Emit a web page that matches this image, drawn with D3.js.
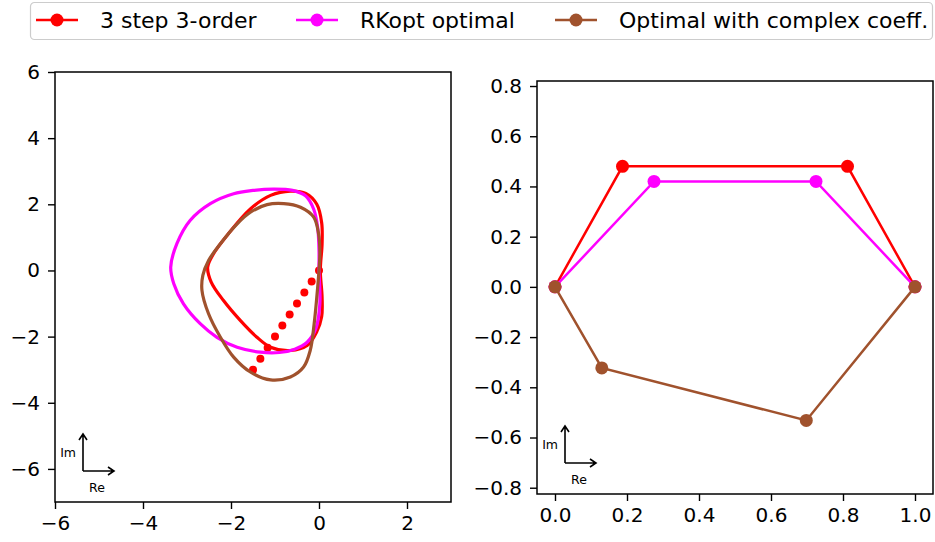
<!DOCTYPE html>
<html><head><meta charset="utf-8">
<script src="https://cdn.jsdelivr.net/npm/d3@7"></script>
<style>body{margin:0;background:#fff}svg{display:block}text{font-family:"DejaVu Sans",sans-serif}</style>
</head><body>
<script>
const seriesNames = ["3 step 3-order", "RKopt optimal", "Optimal with complex coeff."];
const seriesColors = ["#ff0000", "#ff00ff", "#a0522d"];

// Left panel: stability region boundaries (Re, Im), traced
const redCurve = [[0.03,0],[0.07,0.8],[0.06,1.45],[-0.05,2.0],[-0.3,2.33],[-0.65,2.4],[-1.1,2.27],[-1.56,1.86],[-2.09,1.06],[-2.4,0.5],[-2.53,0.1],[-2.45,-0.35],[-2.17,-0.91],[-1.79,-1.51],[-1.41,-2.02],[-1.1,-2.32],[-0.65,-2.42],[-0.27,-2.27],[-0.05,-1.85],[0.06,-1.4],[0.07,-0.8]];
const magentaCurve = [[0.0,0],[0.0,0.6],[-0.03,1.3],[-0.12,1.85],[-0.3,2.25],[-0.6,2.42],[-1.03,2.46],[-1.5,2.42],[-1.94,2.32],[-2.47,2.02],[-2.93,1.51],[-3.23,0.81],[-3.37,0.1],[-3.3,-0.4],[-3.08,-1.01],[-2.7,-1.61],[-2.32,-2.02],[-1.86,-2.32],[-1.33,-2.47],[-0.9,-2.48],[-0.55,-2.38],[-0.27,-2.17],[-0.07,-1.75],[0.02,-1.0]];
const brownCurve = [[0.0,0],[0.02,0.55],[-0.01,1.11],[-0.12,1.61],[-0.42,1.91],[-0.8,2.02],[-1.18,1.99],[-1.56,1.76],[-1.86,1.41],[-2.24,0.81],[-2.51,0.3],[-2.64,-0.15],[-2.66,-0.6],[-2.51,-1.31],[-2.24,-2.02],[-1.94,-2.62],[-1.56,-3.07],[-1.1,-3.31],[-0.65,-3.22],[-0.35,-2.92],[-0.2,-2.42],[-0.11,-1.61],[-0.05,-0.81]];
const redDots = [[0,0],[-0.167,-0.333],[-0.333,-0.667],[-0.5,-1],[-0.667,-1.333],[-0.833,-1.667],[-1,-2],[-1.167,-2.333],[-1.333,-2.667],[-1.5,-3]];

// Right panel: coefficient paths
const redPath = [[0,0],[0.1875,0.48],[0.8125,0.48],[1,0]];
const magentaPath = [[0,0],[0.275,0.42],[0.725,0.42],[1,0]];
const brownPath = [[0,0],[0.13,-0.323],[0.698,-0.532],[1,0]];

const leftXTicks = [-6,-4,-2,0,2];
const leftYTicks = [-6,-4,-2,0,2,4,6];
const rightXTicks = [0,0.2,0.4,0.6,0.8,1.0];
const rightYTicks = [-0.8,-0.6,-0.4,-0.2,0,0.2,0.4,0.6,0.8];

const W = 935, H = 542;
const svg = d3.select("body").append("svg").attr("width", W).attr("height", H);

function panel(box, xdom, ydom, xt, yt, fmt) {
  const x = d3.scaleLinear().domain(xdom).range([box.x0, box.x1]);
  const y = d3.scaleLinear().domain(ydom).range([box.y1, box.y0]);
  const g = svg.append("g");
  const clipId = "clip" + Math.round(box.x0);
  svg.append("clipPath").attr("id", clipId).append("rect")
    .attr("x", box.x0).attr("y", box.y0).attr("width", box.x1 - box.x0).attr("height", box.y1 - box.y0);
  const plot = g.append("g").attr("clip-path", `url(#${clipId})`);
  const ax = g.append("g").attr("transform", `translate(0,${box.y1})`)
    .call(d3.axisBottom(x).tickValues(xt).tickSize(7).tickPadding(7).tickFormat(fmt));
  const ay = g.append("g").attr("transform", `translate(${box.x0},0)`)
    .call(d3.axisLeft(y).tickValues(yt).tickSize(7).tickPadding(8).tickFormat(fmt));
  [ax, ay].forEach(a => {
    a.select(".domain").remove();
    a.selectAll(".tick line").attr("stroke", "#000").attr("stroke-width", 1.4);
    a.selectAll(".tick text").attr("fill", "#000").style("font-size", "20px").style("font-family", "DejaVu Sans");
  });
  g.append("rect").attr("x", box.x0).attr("y", box.y0).attr("width", box.x1 - box.x0).attr("height", box.y1 - box.y0)
    .attr("fill", "none").attr("stroke", "#000").attr("stroke-width", 1.5);
  // Im / Re annotation arrows
  const ox = box.x0 + 28, oy = box.y1 - 31;
  const ann = g.append("g");
  ann.append("path").attr("d", `M${ox},${oy}V${oy-37}M${ox-4},${oy-31}L${ox},${oy-37}L${ox+4},${oy-31}`)
    .attr("fill", "none").attr("stroke", "#000").attr("stroke-width", 1.6);
  ann.append("path").attr("d", `M${ox},${oy}H${ox+31}M${ox+25},${oy-4}L${ox+31},${oy}L${ox+25},${oy+4}`)
    .attr("fill", "none").attr("stroke", "#000").attr("stroke-width", 1.6);
  ann.append("text").attr("x", ox - 7).attr("y", oy - 14).attr("text-anchor", "end").style("font-size", "12.5px").text("Im");
  ann.append("text").attr("x", ox + 14).attr("y", oy + 21).attr("text-anchor", "middle").style("font-size", "12.5px").text("Re");
  return {x, y, plot};
}

const L = panel({x0: 55, x1: 451, y0: 72, y1: 502}, [-6, 3], [-7, 6], leftXTicks, leftYTicks, d3.format("d"));
const R = panel({x0: 537, x1: 933, y0: 81, y1: 494}, [-0.05, 1.05], [-0.825, 0.82], rightXTicks, rightYTicks, d3.format(".1f"));

const closed = d3.line().x(d => L.x(d[0])).y(d => L.y(d[1])).curve(d3.curveCatmullRomClosed.alpha(0.5));
L.plot.selectAll(".rdot").data(redDots).join("circle")
  .attr("cx", d => L.x(d[0])).attr("cy", d => L.y(d[1])).attr("r", 4).attr("fill", seriesColors[0]);
[redCurve, magentaCurve, brownCurve].forEach((c, i) => {
  L.plot.append("path").attr("d", closed(c)).attr("fill", "none")
    .attr("stroke", seriesColors[i]).attr("stroke-width", 3.2);
});

const open = d3.line().x(d => R.x(d[0])).y(d => R.y(d[1]));
[redPath, magentaPath, brownPath].forEach((p, i) => {
  R.plot.append("path").attr("d", open(p)).attr("fill", "none")
    .attr("stroke", seriesColors[i]).attr("stroke-width", 2.5);
  R.plot.selectAll(".m" + i).data(p).join("circle")
    .attr("cx", d => R.x(d[0])).attr("cy", d => R.y(d[1])).attr("r", 6.5).attr("fill", seriesColors[i]);
});

// Legend
const lg = svg.append("g");
lg.append("rect").attr("x", 30.5).attr("y", 2.5).attr("width", 902).attr("height", 37).attr("rx", 4)
  .attr("fill", "#fff").attr("stroke", "#ccc").attr("stroke-width", 1.2);
const legX = [36, 296, 555];
seriesNames.forEach((n, i) => {
  const x0 = legX[i];
  lg.append("line").attr("x1", x0).attr("x2", x0 + 42).attr("y1", 20).attr("y2", 20)
    .attr("stroke", seriesColors[i]).attr("stroke-width", 2.5);
  lg.append("circle").attr("cx", x0 + 21).attr("cy", 20).attr("r", 6.5).attr("fill", seriesColors[i]);
  lg.append("text").attr("x", x0 + 64).attr("y", 28).style("font-size", "22px").attr("fill", "#000").text(n);
});
</script>
</body></html>
